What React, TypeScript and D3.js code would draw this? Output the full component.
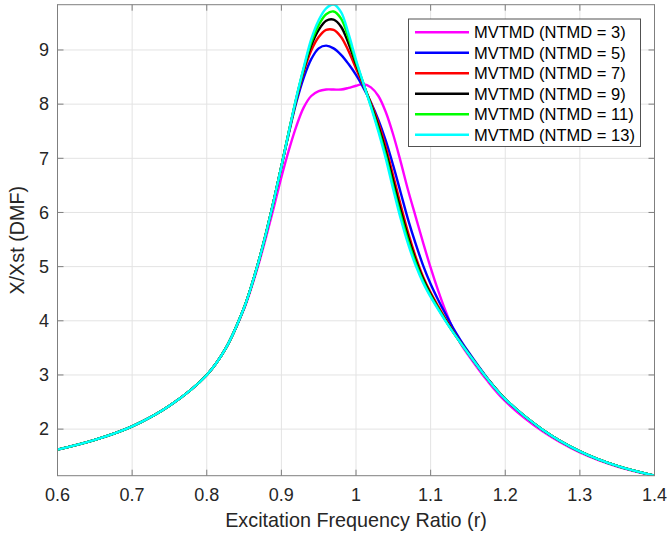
import React from 'react';
import * as d3 from 'd3';

const ratio = [0.6, 0.65, 0.7, 0.75, 0.8, 0.825, 0.85, 0.86, 0.87, 0.88, 0.89, 0.9, 0.91, 0.92, 0.93, 0.94, 0.95, 0.96, 0.97, 0.98, 0.99, 1.0, 1.01, 1.02, 1.03, 1.04, 1.05, 1.06, 1.07, 1.08, 1.09, 1.1, 1.11, 1.12, 1.13, 1.14, 1.15, 1.175, 1.2, 1.25, 1.3, 1.35, 1.4];

const dmf3 = [1.62, 1.8, 2.05, 2.43, 3.0, 3.48, 4.22, 4.62, 5.07, 5.57, 6.1, 6.65, 7.15, 7.59, 7.94, 8.15, 8.24, 8.27, 8.27, 8.27, 8.3, 8.34, 8.37, 8.31, 8.15, 7.85, 7.43, 6.93, 6.4, 5.92, 5.44, 4.98, 4.56, 4.18, 3.85, 3.585, 3.377, 2.91, 2.515, 1.96, 1.57, 1.31, 1.14];
const dmf5 = [1.62, 1.8, 2.05, 2.43, 3.0, 3.48, 4.24, 4.65, 5.12, 5.65, 6.23, 6.85, 7.46, 8.03, 8.49, 8.83, 9.03, 9.08, 9.03, 8.91, 8.74, 8.54, 8.3, 8.03, 7.71, 7.32, 6.86, 6.36, 5.86, 5.42, 5.02, 4.68, 4.39, 4.125, 3.87, 3.645, 3.437, 2.96, 2.555, 1.99, 1.59, 1.32, 1.14];
const dmf7 = [1.62, 1.8, 2.05, 2.43, 3.0, 3.48, 4.24, 4.65, 5.12, 5.65, 6.23, 6.85, 7.48, 8.08, 8.6, 8.99, 9.24, 9.37, 9.37, 9.24, 8.98, 8.66, 8.35, 8.02, 7.65, 7.2, 6.67, 6.13, 5.62, 5.18, 4.81, 4.52, 4.27, 4.035, 3.81, 3.605, 3.41, 2.95, 2.555, 1.99, 1.59, 1.32, 1.14];
const dmf9 = [1.62, 1.8, 2.05, 2.43, 3.0, 3.48, 4.24, 4.65, 5.12, 5.65, 6.23, 6.85, 7.49, 8.1, 8.64, 9.08, 9.37, 9.54, 9.56, 9.43, 9.12, 8.74, 8.37, 7.99, 7.59, 7.12, 6.57, 6.03, 5.54, 5.12, 4.77, 4.49, 4.24, 4.015, 3.8, 3.6, 3.41, 2.95, 2.555, 1.99, 1.59, 1.32, 1.14];
const dmf11 = [1.62, 1.8, 2.05, 2.43, 3.0, 3.48, 4.24, 4.65, 5.12, 5.65, 6.23, 6.85, 7.49, 8.11, 8.66, 9.14, 9.46, 9.66, 9.71, 9.58, 9.22, 8.78, 8.38, 7.97, 7.54, 7.05, 6.48, 5.95, 5.47, 5.07, 4.73, 4.46, 4.23, 4.005, 3.79, 3.595, 3.407, 2.95, 2.555, 1.99, 1.59, 1.32, 1.14];
const dmf13 = [1.62, 1.8, 2.05, 2.43, 3.0, 3.48, 4.24, 4.65, 5.12, 5.65, 6.23, 6.85, 7.49, 8.12, 8.68, 9.2, 9.55, 9.77, 9.84, 9.7, 9.3, 8.82, 8.38, 7.95, 7.49, 6.99, 6.42, 5.88, 5.41, 5.02, 4.7, 4.44, 4.21, 3.995, 3.79, 3.595, 3.407, 2.95, 2.555, 1.99, 1.59, 1.32, 1.14];

const seriesNames = ['MVTMD (NTMD = 3)', 'MVTMD (NTMD = 5)', 'MVTMD (NTMD = 7)', 'MVTMD (NTMD = 9)', 'MVTMD (NTMD = 11)', 'MVTMD (NTMD = 13)'];
const seriesValues = [dmf3, dmf5, dmf7, dmf9, dmf11, dmf13];
const seriesColors = ['#ff00ff', '#0000ff', '#ff0000', '#000000', '#00ff00', '#00ffff'];

const xTicks = [0.6, 0.7, 0.8, 0.9, 1.0, 1.1, 1.2, 1.3, 1.4];
const yTicks = [2, 3, 4, 5, 6, 7, 8, 9];
const xTitle = 'Excitation Frequency Ratio (r)';
const yTitle = 'X/Xst (DMF)';

const W = 668;
const H = 535;
const L = 57.5;
const R = 654.5;
const T = 4.7;
const B = 475.7;
const FONT = '"Liberation Sans", Arial, Helvetica, sans-serif';
const AX = '#7f7f7f';
const TXT = '#262626';

export default function App() {
  const x = d3.scaleLinear().domain([0.6, 1.4]).range([L, R]);
  const y = d3.scaleLinear().domain([1.14, 9.836]).range([B, T]);
  const line = d3
    .line<number>()
    .x((_, i) => x(ratio[i]))
    .y((d) => y(d))
    .curve(d3.curveCatmullRom.alpha(0.5));

  const legX = 408.5;
  const legY = 19;
  const legW = 232;
  const legH = 127.5;
  const rowY0 = 32.3;
  const rowDy = 20.5;

  return (
    <svg width={W} height={H} style={{ position: 'absolute', left: 0, top: 0, background: '#fff' }} fontFamily={FONT}>
      <defs>
        <clipPath id="plotclip">
          <rect x={L} y={T} width={R - L} height={B - T} />
        </clipPath>
      </defs>
      <rect x={0} y={0} width={W} height={H} fill="#fff" />
      {xTicks.map((t) => (
        <line key={'gx' + t} x1={x(t)} x2={x(t)} y1={T} y2={B} stroke="#e3e3e3" strokeWidth={1} />
      ))}
      {yTicks.map((t) => (
        <line key={'gy' + t} x1={L} x2={R} y1={y(t)} y2={y(t)} stroke="#e3e3e3" strokeWidth={1} />
      ))}
      <g clipPath="url(#plotclip)">
        {seriesValues.map((vals, i) => (
          <path key={'s' + i} d={line(vals) || ''} fill="none" stroke={seriesColors[i]} strokeWidth={2.4} strokeLinejoin="round" />
        ))}
      </g>
      <rect x={L} y={T} width={R - L} height={B - T} fill="none" stroke={AX} strokeWidth={1} />
      {xTicks.map((t) => (
        <g key={'tx' + t}>
          <line x1={x(t)} x2={x(t)} y1={B} y2={B - 6} stroke={AX} />
          <line x1={x(t)} x2={x(t)} y1={T} y2={T + 6} stroke={AX} />
          <text x={x(t)} y={501} textAnchor="middle" fontSize={18} fill={TXT}>
            {String(t)}
          </text>
        </g>
      ))}
      {yTicks.map((t) => (
        <g key={'ty' + t}>
          <line x1={L} x2={L + 6} y1={y(t)} y2={y(t)} stroke={AX} />
          <line x1={R} x2={R - 6} y1={y(t)} y2={y(t)} stroke={AX} />
          <text x={49} y={y(t)} dy="0.35em" textAnchor="end" fontSize={18} fill={TXT}>
            {String(t)}
          </text>
        </g>
      ))}
      <text x={(L + R) / 2} y={527} textAnchor="middle" fontSize={19.8} fill={TXT}>
        {xTitle}
      </text>
      <text transform={`translate(17,${(T + B) / 2}) rotate(-90)`} textAnchor="middle" dy="0.35em" fontSize={19.8} fill={TXT}>
        {yTitle}
      </text>
      <rect x={legX} y={legY} width={legW} height={legH} fill="#fff" stroke="#262626" strokeOpacity={0.8} strokeWidth={1} />
      {seriesNames.map((name, i) => (
        <g key={'lg' + i}>
          <line x1={415} x2={469} y1={rowY0 + i * rowDy} y2={rowY0 + i * rowDy} stroke={seriesColors[i]} strokeWidth={2.4} />
          <text x={474} y={rowY0 + i * rowDy} dy="0.35em" fontSize={16.5} fill="#000">
            {name}
          </text>
        </g>
      ))}
    </svg>
  );
}
